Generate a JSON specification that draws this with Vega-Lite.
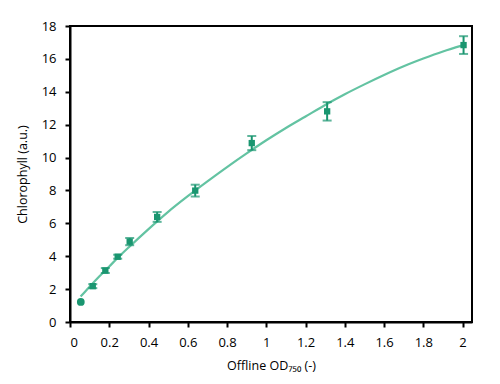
{
  "$schema": "https://vega.github.io/schema/vega-lite/v6.json",
  "width": 402,
  "height": 296,
  "autosize": "none",
  "padding": {"left": 70, "top": 26, "right": 28, "bottom": 62},
  "background": "white",
  "config": {
    "view": {"stroke": "black", "strokeWidth": 2},
    "axis": {
      "domainColor": "black", "domainWidth": 2,
      "tickColor": "black", "tickWidth": 2, "tickSize": 5,
      "grid": false,
      "labelFont": "Open Sans", "labelFontSize": 13, "labelColor": "black",
      "titleFont": "Open Sans", "titleFontSize": 12.5, "titleFontWeight": "normal", "titleColor": "black",
      "labelPadding": 9
    }
  },
  "datasets": {
    "curve": [
      {"x": 0.054, "y": 1.55}, {"x": 0.1, "y": 2.15}, {"x": 0.15, "y": 2.78},
      {"x": 0.2, "y": 3.38}, {"x": 0.25, "y": 3.98}, {"x": 0.3, "y": 4.55},
      {"x": 0.4, "y": 5.65}, {"x": 0.5, "y": 6.7}, {"x": 0.6, "y": 7.65},
      {"x": 0.7, "y": 8.55}, {"x": 0.8, "y": 9.42}, {"x": 0.9, "y": 10.25},
      {"x": 1.0, "y": 11.05}, {"x": 1.1, "y": 11.8}, {"x": 1.2, "y": 12.5},
      {"x": 1.3, "y": 13.2}, {"x": 1.4, "y": 13.85}, {"x": 1.5, "y": 14.45},
      {"x": 1.6, "y": 15.02}, {"x": 1.7, "y": 15.55}, {"x": 1.8, "y": 16.02},
      {"x": 1.9, "y": 16.45}, {"x": 2.0, "y": 16.82}
    ],
    "pts": [
      {"x": 0.055, "y": 1.22, "lo": 1.22, "hi": 1.22, "kind": "circle"},
      {"x": 0.116, "y": 2.18, "lo": 2.06, "hi": 2.3, "kind": "square"},
      {"x": 0.18, "y": 3.13, "lo": 2.98, "hi": 3.28, "kind": "square"},
      {"x": 0.243, "y": 3.97, "lo": 3.85, "hi": 4.09, "kind": "square"},
      {"x": 0.304, "y": 4.89, "lo": 4.67, "hi": 5.11, "kind": "square"},
      {"x": 0.444, "y": 6.39, "lo": 6.09, "hi": 6.69, "kind": "square"},
      {"x": 0.638, "y": 7.99, "lo": 7.63, "hi": 8.35, "kind": "square"},
      {"x": 0.926, "y": 10.88, "lo": 10.45, "hi": 11.31, "kind": "square"},
      {"x": 1.31, "y": 12.81, "lo": 12.25, "hi": 13.37, "kind": "square"},
      {"x": 2.005, "y": 16.84, "lo": 16.3, "hi": 17.38, "kind": "square"}
    ]
  },
  "layer": [
    {
      "data": {"name": "curve"},
      "mark": {"type": "line", "color": "#63c3a2", "strokeWidth": 2.2, "interpolate": "monotone"},
      "encoding": {
        "x": {"field": "x", "type": "quantitative",
              "scale": {"domain": [0, 2.048], "nice": false},
              "axis": {"values": [0, 0.2, 0.4, 0.6, 0.8, 1, 1.2, 1.4, 1.6, 1.8, 2], "format": "~g", "title": "Offline OD₇₅₀ (-)", "titlePadding": 10}},
        "y": {"field": "y", "type": "quantitative",
              "scale": {"domain": [0, 18], "nice": false},
              "axis": {"values": [0, 2, 4, 6, 8, 10, 12, 14, 16, 18], "labelOverlap": false, "title": "Chlorophyll (a.u.)", "titlePadding": 12}}
      }
    },
    {
      "data": {"name": "pts"},
      "transform": [{"filter": "datum.kind == 'square'"}],
      "mark": {"type": "errorbar", "color": "#1a9670", "ticks": {"size": 9, "thickness": 2}, "rule": {"strokeWidth": 2}},
      "encoding": {
        "x": {"field": "x", "type": "quantitative",
              "axis": {"values": [0, 0.2, 0.4, 0.6, 0.8, 1, 1.2, 1.4, 1.6, 1.8, 2], "format": "~g", "title": "Offline OD₇₅₀ (-)", "titlePadding": 10}},
        "y": {"field": "lo", "type": "quantitative",
              "axis": {"values": [0, 2, 4, 6, 8, 10, 12, 14, 16, 18], "labelOverlap": false, "title": "Chlorophyll (a.u.)", "titlePadding": 12}},
        "y2": {"field": "hi"}
      }
    },
    {
      "data": {"name": "pts"},
      "mark": {"type": "point", "filled": true, "opacity": 1, "color": "#1a9670"},
      "encoding": {
        "x": {"field": "x", "type": "quantitative",
              "axis": {"values": [0, 0.2, 0.4, 0.6, 0.8, 1, 1.2, 1.4, 1.6, 1.8, 2], "format": "~g", "title": "Offline OD₇₅₀ (-)", "titlePadding": 10}},
        "y": {"field": "y", "type": "quantitative",
              "axis": {"values": [0, 2, 4, 6, 8, 10, 12, 14, 16, 18], "labelOverlap": false, "title": "Chlorophyll (a.u.)", "titlePadding": 12}},
        "shape": {"field": "kind", "type": "nominal", "scale": {"domain": ["circle", "square"], "range": ["circle", "square"]}, "legend": null},
        "size": {"field": "kind", "type": "nominal", "scale": {"domain": ["circle", "square"], "range": [60, 40]}, "legend": null}
      }
    }
  ]
}
